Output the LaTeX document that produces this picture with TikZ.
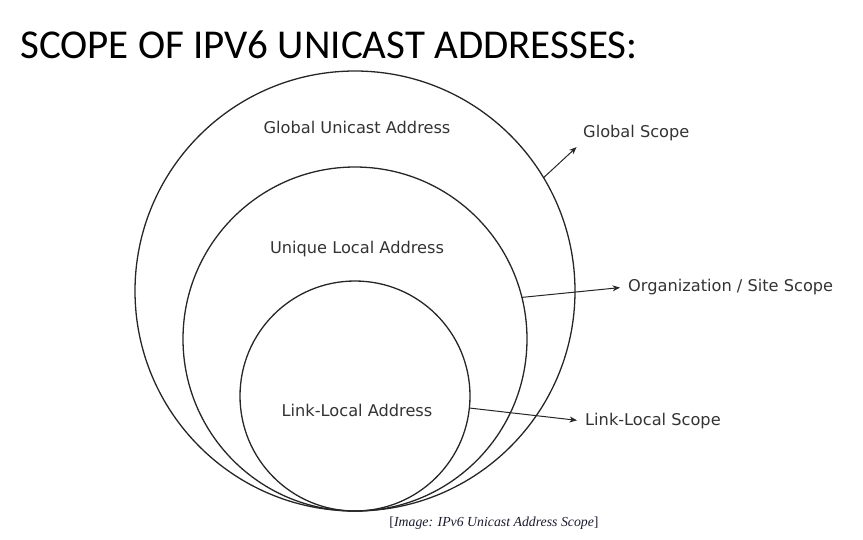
\documentclass[tikz,border=0pt]{standalone}
\usepackage{fontspec}
\usepackage{tikz}
\usetikzlibrary{arrows.meta, positioning}
\newfontfamily\titlefont{Carlito}
\newfontfamily\diagfont{DejaVu Sans}
\newfontfamily\capfont{Liberation Serif}
\definecolor{sline}{HTML}{262626}
\definecolor{stext}{HTML}{333333}
\definecolor{scap}{HTML}{1A1A2E}
\tikzset{
  ring/.style={draw=sline, circle, line width=1.3pt, inner sep=0pt, outer sep=0pt},
  lbl/.style={text=stext, font=\diagfont\fontsize{16.2}{19}\selectfont, inner sep=2pt},
  arr/.style={-{Stealth[length=7.5pt, width=6pt]}, line width=1pt, sline, shorten >=6pt},
}
\begin{document}
\begin{tikzpicture}[x=1pt, y=-1pt]
  \useasboundingbox (0,0) rectangle (863,539);
  \node[anchor=base west, inner sep=0pt, font=\titlefont\fontsize{41}{48}\selectfont]
    (title) at (20,58) {SCOPE OF IPV6 UNICAST ADDRESSES:};
  \node[ring, minimum size=440pt] (global) at (355,291) {};
  \node[ring, minimum size=344pt] (unique) at (355,339) {};
  \node[ring, minimum size=230pt] (link) at (355,396) {};
  \node[lbl] (gua) at (357,127) {Global Unicast Address};
  \node[lbl] (ula) at (357,249) {Unique Local Address};
  \node[lbl] (lla) at (357,410) {Link-Local Address};
  \node[lbl, anchor=west] (gscope) at (581,133) {Global Scope};
  \node[lbl, anchor=west] (oscope) at (626,287) {Organization / Site Scope};
  \node[lbl, anchor=west] (lscope) at (583,421) {Link-Local Scope};
  \draw[arr] (global.31) -- (gscope.south west);
  \draw[arr] (unique.14) -- (oscope.west);
  \draw[arr] (link.-6) -- (lscope.west);
  \node[text=scap, font=\capfont\fontsize{13.8}{16}\selectfont]
    (caption) at (494,523) {[\textit{Image: IPv6 Unicast Address Scope}]};
\end{tikzpicture}
\end{document}
